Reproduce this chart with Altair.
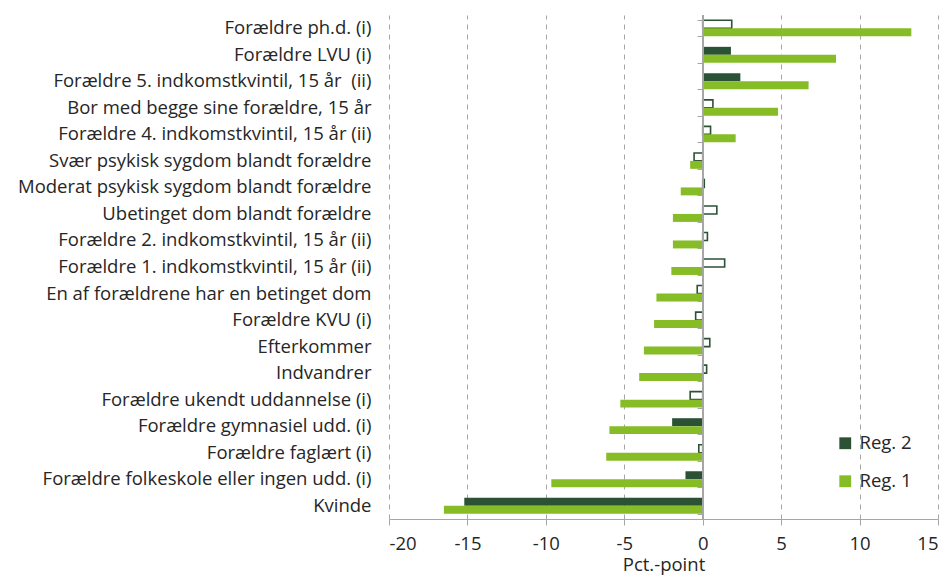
import altair as alt
import pandas as pd

categories = [
    "Forældre ph.d. (i)",
    "Forældre LVU (i)",
    "Forældre 5. indkomstkvintil, 15 år\u00a0 (ii)",
    "Bor med begge sine forældre, 15 år",
    "Forældre 4. indkomstkvintil, 15 år (ii)",
    "Svær psykisk sygdom blandt forældre",
    "Moderat psykisk sygdom blandt forældre",
    "Ubetinget dom blandt forældre\u00a0",
    "Forældre 2. indkomstkvintil, 15 år (ii)",
    "Forældre 1. indkomstkvintil, 15 år (ii)",
    "En af forældrene har en betinget dom",
    "Forældre KVU (i)",
    "Efterkommer",
    "Indvandrer",
    "Forældre ukendt uddannelse (i)",
    "Forældre gymnasiel udd. (i)",
    "Forældre faglært (i)",
    "Forældre folkeskole eller ingen udd. (i)",
    "Kvinde",
]
reg2 = [1.85, 1.8, 2.4, 0.65, 0.5, -0.55, 0.1, 0.9, 0.3, 1.4,
        -0.35, -0.45, 0.45, 0.25, -0.8, -1.95, -0.25, -1.1, -15.2]
reg1 = [13.3, 8.5, 6.75, 4.8, 2.1, -0.8, -1.4, -1.9, -1.9, -2.0,
        -2.95, -3.1, -3.75, -4.05, -5.25, -5.95, -6.15, -9.65, -16.5]
reg2_filled = [False, True, True, False, False, False, False, False, False, False,
               False, False, False, False, False, True, False, True, True]
series = ["Reg. 2", "Reg. 1"]
x_ticks = [-20, -15, -10, -5, 0, 5, 10, 15]

DARK = "#2b5235"
LIGHT = "#86bc25"
GRAY = "#a6a6a6"
TXT = "#262626"
FONT = "Open Sans"
FS = 18.5

rows = []
for c, v2, v1, f in zip(categories, reg2, reg1, reg2_filled):
    rows.append({"cat": c, "series": "Reg. 2", "value": v2, "hollow": not f})
    rows.append({"cat": c, "series": "Reg. 1", "value": v1, "hollow": False})
df = pd.DataFrame(rows)

xscale = alt.Scale(domain=[-20, 15], nice=False, zero=False)
yscale = alt.Scale(paddingInner=0.4, paddingOuter=0.2)

bars = alt.Chart(df).mark_bar().encode(
    x=alt.X("value:Q", scale=xscale,
            axis=alt.Axis(values=x_ticks, title="Pct.-point", grid=True,
                          gridDash=[5, 5], gridColor=GRAY, gridWidth=1,
                          domainColor=GRAY, tickColor=GRAY, tickSize=6,
                          labelExpr="'' + datum.value",
                          labelFontSize=FS, labelColor=TXT, labelFont=FONT,
                          labelPadding=9, titleFont=FONT, titleFontSize=FS,
                          titleFontWeight="normal", titleColor=TXT,
                          titlePadding=3)),
    y=alt.Y("cat:N", sort=categories, scale=yscale,
            axis=alt.Axis(title=None, domain=False, ticks=False,
                          labelFontSize=FS, labelColor=TXT, labelFont=FONT,
                          labelPadding=18, labelLimit=500, orient="left")),
    yOffset=alt.YOffset("series:N", sort=series),
    color=alt.condition(
        "datum.hollow",
        alt.value("white"),
        alt.Color("series:N",
                  scale=alt.Scale(domain=series, range=[DARK, LIGHT]),
                  legend=alt.Legend(title=None, orient="none", legendX=447,
                                    legendY=419, symbolType="square",
                                    symbolSize=140, symbolStrokeWidth=0,
                                    labelFontSize=FS, labelFont=FONT,
                                    labelColor=TXT, rowPadding=19,
                                    labelOffset=5)),
    ),
    stroke=alt.value(DARK),
    strokeWidth=alt.condition("datum.hollow", alt.value(1.6), alt.value(0)),
)

tick_axis = alt.Chart(df).mark_point(opacity=0).encode(
    x=alt.X("value:Q", scale=xscale),
    y=alt.Y("cat:N", sort=categories, scale=yscale,
            axis=alt.Axis(title=None, labels=False, domain=False, ticks=True,
                          tickBand="extent", tickSize=6, tickColor=GRAY,
                          tickWidth=1, offset=-314, grid=False, orient="left")),
)

zero_rule = alt.Chart(df).mark_rule(color=GRAY, strokeWidth=1).encode(
    x=alt.datum(0),
)

chart = alt.layer(bars, tick_axis, zero_rule).resolve_axis(
    y="independent"
).properties(
    width=549, height=504,
    padding={"left": 9, "top": 6, "right": 2, "bottom": 3},
).configure(
    font=FONT,
    view=alt.ViewConfig(stroke="transparent", strokeWidth=0),
)

chart.save("out.html", embed_options={"renderer": "svg", "actions": False})
